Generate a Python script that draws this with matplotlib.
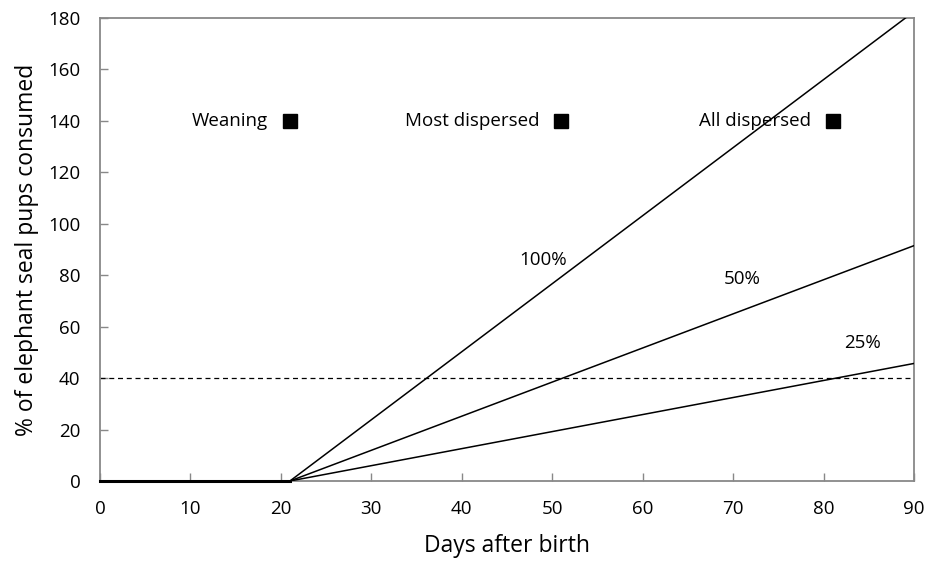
import matplotlib
matplotlib.use("Agg")
import matplotlib.pyplot as plt

# Consumption scenarios: flat until weaning, then linear growth
days = [0, 21, 90]
pct_100 = [0, 0, 182.5]
pct_50 = [0, 0, 91.5]
pct_25 = [0, 0, 45.7]
scenario_labels = ["100%", "50%", "25%"]
label_pos = [(49.0, 86.0), (71.0, 78.5), (84.3, 53.5)]

threshold = 40

events = ["Weaning", "Most dispersed", "All dispersed"]
event_days = [21, 51, 81]
event_level = [140, 140, 140]

xticks = list(range(0, 91, 10))
yticks = list(range(0, 181, 20))

plt.rcParams['font.family'] = ['Open Sans', 'DejaVu Sans']

fig = plt.figure(figsize=(9.28, 5.61), dpi=100)
ax = fig.add_axes([100 / 928, 1 - 481 / 561, 814 / 928, 463 / 561])

ax.axhline(threshold, color="black", lw=0.9, ls=(0, (4, 3)), zorder=2)
for series in (pct_100, pct_50, pct_25):
    ax.plot(days, series, color="black", lw=1.1, zorder=3, clip_on=True)
ax.plot(days[:2], [0, 0], color="black", lw=2.2, zorder=4, clip_on=False)

for text, (x, y) in zip(scenario_labels, label_pos):
    ax.text(x, y, text, ha="center", va="center", fontsize=13.5)

ax.plot(event_days, event_level, ls="none", marker="s", ms=9.5,
        color="black", zorder=5)
for text, d, y in zip(events, event_days, event_level):
    ax.text(d - 2.4, y, text, ha="right", va="center", fontsize=13.5)

ax.set_xlim(0, 90)
ax.set_ylim(0, 180)
ax.set_xticks(xticks)
ax.set_yticks(yticks)
ax.tick_params(direction="in", length=6, width=1, color="#888888",
               labelsize=13.5)
ax.tick_params(axis="x", pad=14)
ax.tick_params(axis="y", pad=14)
for s in ax.spines.values():
    s.set_color("#888888")
    s.set_linewidth(1.3)

ax.set_xlabel("Days after birth", fontsize=16.5, labelpad=11)
ax.set_ylabel("% of elephant seal pups consumed", fontsize=16.5, labelpad=7)

fig.savefig("out.png", dpi=100)
